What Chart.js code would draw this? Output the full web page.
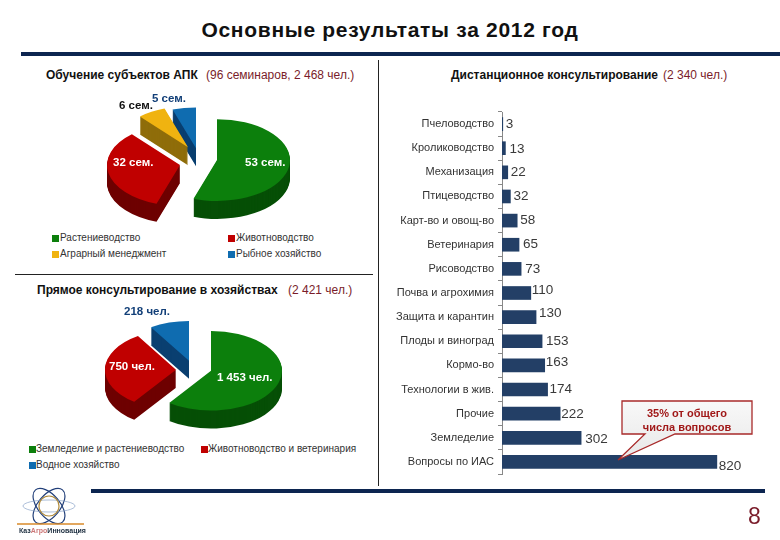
<!DOCTYPE html>
<html>
<head>
<meta charset="utf-8">
<script src="https://cdn.jsdelivr.net/npm/chart.js@4"></script>
<style>
  html, body { margin: 0; padding: 0; background: #fff; }
  #page { position: relative; width: 780px; height: 540px; overflow: hidden; font-family: "Liberation Sans", Arial, sans-serif; color: #222; }
  #page > * { position: absolute; }
  .txt { white-space: nowrap; line-height: 1; }
  .head { font-size: 12px; font-weight: bold; color: #111; }
  .note { font-size: 12px; color: #7a1c2a; }
  .legend { font-size: 10px; color: #333; }
  .swatch { width: 7px; height: 7px; }
  .pie-label { font-size: 11.5px; font-weight: bold; color: #fff; }
</style>
</head>
<body>
<div id="page">
  <div class="txt" style="left:0;width:780px;text-align:center;top:19px;font-size:21px;font-weight:bold;letter-spacing:0.7px;color:#111">Основные результаты за 2012 год</div>
  <div style="left:21px;top:52px;width:759px;height:4px;background:#0c2550"></div>
  <div style="left:15px;top:274px;width:358px;height:1px;background:#222"></div>
  <div style="left:378px;top:60px;width:1px;height:426px;background:#222"></div>
  <div style="left:91px;top:489px;width:674px;height:4px;background:#0c2550"></div>

  <div class="txt head" style="left:46px;top:69px">Обучение субъектов АПК</div>
  <div class="txt note" style="left:206px;top:69px">(96 семинаров, 2 468 чел.)</div>
  <div class="txt head" style="left:451px;top:69px">Дистанционное консультирование</div>
  <div class="txt note" style="left:663px;top:69px">(2 340 чел.)</div>
  <div class="txt head" style="left:37px;top:284px">Прямое консультирование в хозяйствах</div>
  <div class="txt note" style="left:288px;top:284px">(2 421 чел.)</div>

  <canvas id="seminarPie" style="left:40px;top:85px;width:330px;height:145px"></canvas>
  <canvas id="farmPie" style="left:27px;top:300px;width:330px;height:140px"></canvas>
  <canvas id="remoteBars" style="left:380px;top:100px;width:400px;height:385px"></canvas>

  <div class="txt pie-label" style="left:245px;top:157px">53 сем.</div>
  <div class="txt pie-label" style="left:113px;top:157px">32 сем.</div>
  <div class="txt pie-label" style="left:119px;top:100px;color:#111">6 сем.</div>
  <div class="txt pie-label" style="left:152px;top:93px;color:#123f78">5 сем.</div>
  <div class="txt pie-label" style="left:124px;top:306px;color:#123f78">218 чел.</div>
  <div class="txt pie-label" style="left:109px;top:361px">750 чел.</div>
  <div class="txt pie-label" style="left:217px;top:372px">1 453 чел.</div>

  <div class="swatch" style="left:52px;top:235px;background:#0c7f0c"></div>
  <div class="txt legend" style="left:60px;top:233px">Растениеводство</div>
  <div class="swatch" style="left:228px;top:235px;background:#c00000"></div>
  <div class="txt legend" style="left:236px;top:233px">Животноводство</div>
  <div class="swatch" style="left:52px;top:251px;background:#f0b310"></div>
  <div class="txt legend" style="left:60px;top:249px">Аграрный менеджмент</div>
  <div class="swatch" style="left:228px;top:251px;background:#0f6cb0"></div>
  <div class="txt legend" style="left:236px;top:249px">Рыбное хозяйство</div>

  <div class="swatch" style="left:29px;top:446px;background:#0c7f0c"></div>
  <div class="txt legend" style="left:36px;top:444px">Земледелие и растениеводство</div>
  <div class="swatch" style="left:201px;top:446px;background:#c00000"></div>
  <div class="txt legend" style="left:208px;top:444px">Животноводство и ветеринария</div>
  <div class="swatch" style="left:29px;top:462px;background:#0f6cb0"></div>
  <div class="txt legend" style="left:36px;top:460px">Водное хозяйство</div>

  <svg style="left:0;top:0" width="780" height="540">
    <defs><linearGradient id="calloutFill" x1="0" y1="0" x2="0" y2="1"><stop offset="0" stop-color="#f8f8f8"/><stop offset="1" stop-color="#e8e8e8"/></linearGradient></defs>
    <path d="M622 401 H752 V434 H675 L618 460 L645 434 H622 Z" fill="url(#calloutFill)" stroke="#a82a2a" stroke-width="1.3"/>
    <!-- logo -->
    <g fill="none" stroke="#23407a" stroke-width="1.2">
      <ellipse cx="49" cy="506" rx="21" ry="11" transform="rotate(50 49 506)"/>
      <ellipse cx="49" cy="506" rx="21" ry="11" transform="rotate(-50 49 506)"/>
      <ellipse cx="49" cy="506" rx="26" ry="6" stroke="#8aa4c8" stroke-width="0.7"/>
      <circle cx="49" cy="506" r="10" stroke="#b08a3a"/>
    </g>
    <line x1="17" y1="524" x2="84" y2="524" stroke="#d98a2a" stroke-width="1.5"/>
  </svg>
  <div class="txt" style="left:19px;top:527px;font-size:7px;font-weight:bold;color:#234"><span>Каз</span><span style="color:#c77">Агро</span><span>Инновация</span></div>
  <div class="txt" style="left:622px;top:406px;width:130px;text-align:center;font-size:11px;font-weight:bold;color:#a01818;line-height:14px;white-space:normal">35% от общего<br>числа вопросов</div>
  <div class="txt" style="left:748px;top:505px;font-size:23px;color:#7a1c2a">8</div>
</div>

<script>
// seminars pie
const seminarLabels = ["Растениеводство", "Животноводство", "Аграрный менеджмент", "Рыбное хозяйство"];
const seminarValues = [53, 32, 6, 5];
// farm consulting pie
const farmLabels = ["Земледелие и растениеводство", "Животноводство и ветеринария", "Водное хозяйство"];
const farmValues = [1453, 750, 218];
// remote consulting bars
const remoteLabels = ["Пчеловодство", "Кролиководство", "Механизация", "Птицеводство", "Карт-во и овощ-во", "Ветеринария", "Рисоводство", "Почва и агрохимия", "Защита и карантин", "Плоды и виноград", "Кормо-во", "Технологии в жив.", "Прочие", "Земледелие", "Вопросы по ИАС"];
const remoteValues = [3, 13, 22, 32, 58, 65, 73, 110, 130, 153, 163, 174, 222, 302, 820];

// colours
const topColors = ["#0c7f0c", "#c00000", "#f0b310", "#0f6cb0"];
const sideColors = ["#064f06", "#6e0000", "#8f6d0a", "#0a3f70"];
const farmTopColors = ["#0c7f0c", "#c00000", "#0f6cb0"];
const farmSideColors = ["#064f06", "#6e0000", "#0a3f70"];

// how far each slice is pulled out of the pie, px before the squash
const seminarPullX = [12, -25, -17, -9];
const seminarPullY = [1, 10, -22, -20];
const farmPullX = [19, -16, -3];
const farmPullY = [5, 3, -13];

// hand placed value labels, the picture has them slightly off the bar ends
const valueNudgeX = [3, 4, 3, 3, 3, 4, 4, 1, 3, 4, 1, 2, 1, 4, 2];
const valueNudgeY = [0, 1, 0, 0, 0, 0, 0, -3, -4, 0, -3, 0, 1, 1, 4];

// squash the pie and stack dark copies below it, so it looks 3D
// the pull is done here and not with the offset option, offset also grows the radius
const tiltedPie = {
  id: "tiltedPie",
  beforeDatasetsDraw(chart, args, opts) {
    const ctx = chart.ctx;
    const arcs = chart.getDatasetMeta(0).data;
    const drawLayer = (arc, i, shift, color) => {
      const saved = arc.options;
      arc.options = Object.create(saved, { backgroundColor: { value: color }, borderColor: { value: color } });
      ctx.save();
      ctx.translate(arc.x, arc.y + opts.centerY + shift);
      ctx.scale(1, opts.squash);
      ctx.translate(-arc.x + opts.pullX[i], -arc.y + opts.pullY[i]);
      arc.draw(ctx);
      ctx.restore();
      arc.options = saved;
    };
    for (let i = arcs.length - 1; i >= 0; i--) {
      for (let d = opts.depth; d > 0; d--) {
        drawLayer(arcs[i], i, d, opts.sides[i]);
      }
      drawLayer(arcs[i], i, 0, opts.tops[i]);
    }
    return false;
  }
};

function makePie(id, labels, values, tops, sides, pullX, pullY, radius, centerY) {
  new Chart(document.getElementById(id), {
    type: "pie",
    data: {
      labels: labels,
      datasets: [{ data: values, backgroundColor: tops, borderWidth: 0 }]
    },
    options: {
      responsive: false,
      animation: false,
      radius: radius,
      layout: { padding: 0 },
      plugins: {
        legend: { display: false },
        tooltip: { enabled: false },
        tiltedPie: { squash: 0.56, depth: 18, tops: tops, sides: sides, pullX: pullX, pullY: pullY, centerY: centerY }
      }
    },
    plugins: [tiltedPie]
  });
}

function sizeCanvas(id) {
  const el = document.getElementById(id);
  el.width = parseInt(el.style.width);
  el.height = parseInt(el.style.height);
}
["seminarPie", "farmPie", "remoteBars"].forEach(sizeCanvas);

makePie("seminarPie", seminarLabels, seminarValues, topColors, sideColors, seminarPullX, seminarPullY, 73, 2);
makePie("farmPie", farmLabels, farmValues, farmTopColors, farmSideColors, farmPullX, farmPullY, 71, -2);

const barValueLabels = {
  id: "barValueLabels",
  afterDatasetsDraw(chart) {
    const ctx = chart.ctx;
    ctx.save();
    ctx.font = "13.5px 'Liberation Sans', Arial, sans-serif";
    ctx.fillStyle = "#3a3a3a";
    ctx.textBaseline = "middle";
    chart.getDatasetMeta(0).data.forEach((bar, i) => {
      ctx.fillText(remoteValues[i], bar.x + valueNudgeX[i], bar.y + valueNudgeY[i]);
    });
    ctx.restore();
  }
};

new Chart(document.getElementById("remoteBars"), {
  type: "bar",
  data: {
    labels: remoteLabels,
    datasets: [{ data: remoteValues, backgroundColor: "#233f66", barThickness: 13 }]
  },
  options: {
    indexAxis: "y",
    responsive: false,
    animation: false,
    layout: { padding: { top: 12, bottom: 11 } },
    plugins: { legend: { display: false }, tooltip: { enabled: false } },
    scales: {
      x: { display: false, min: 0, max: 1061 },
      y: {
        afterFit: (axis) => { axis.width = 122; },
        border: { color: "#888" },
        grid: { drawOnChartArea: false, tickLength: 4, color: "#888" },
        ticks: { color: "#333", padding: 4, autoSkip: false, font: { family: "'Liberation Sans', Arial, sans-serif", size: 11 } }
      }
    }
  },
  plugins: [barValueLabels]
});
</script>
</body>
</html>
